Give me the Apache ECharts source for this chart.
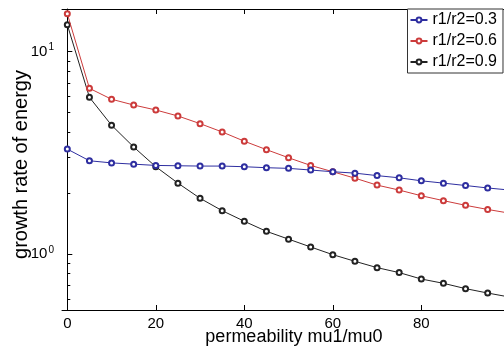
<!DOCTYPE html>
<html><head><meta charset="utf-8">
<script src="https://cdn.jsdelivr.net/npm/echarts@6/dist/echarts.min.js"></script>
<style>html,body{margin:0;padding:0;background:#fff}#c{width:504px;height:353px}</style>
</head><body><div id="c"></div>
<script>
const xValues = [0,5,10,15,20,25,30,35,40,45,50,55,60,65,70,75,80,85,90,95,100];
const seriesNames = ['r1/r2=0.3','r1/r2=0.6','r1/r2=0.9'];
const ratio03 = [3.30,2.89,2.82,2.78,2.74,2.73,2.72,2.72,2.70,2.67,2.65,2.60,2.55,2.51,2.44,2.38,2.30,2.24,2.18,2.12,2.07];
const ratio06 = [15.4,6.59,5.82,5.45,5.15,4.81,4.41,4.01,3.61,3.28,2.99,2.74,2.55,2.37,2.19,2.07,1.94,1.835,1.74,1.66,1.59];
const ratio09 = [13.6,5.95,4.33,3.38,2.70,2.24,1.885,1.637,1.451,1.294,1.184,1.083,0.992,0.920,0.856,0.809,0.752,0.716,0.674,0.641,0.612];
const xTicks = [0,20,40,60,80];
const yMajorTicks = [1,10];
const yMinorTicks = [0.6,0.7,0.8,0.9,2,3,4,5,6,7,8,9];
const colors = ['#2e2ea0','#cc3b3b','#222222'];

const FONT = '"Liberation Sans", Arial, Helvetica, sans-serif';
const X_MIN = -1.2, X_MAX = 100, Y_MIN = 0.5285, Y_MAX = 16.26;

function pairs(ys){ return xValues.map((x,i)=>[x, ys[i]]); }
const allSeries = [ratio03, ratio06, ratio09];

const chart = echarts.init(document.getElementById('c'), null, {renderer:'canvas'});
chart.setOption({
  animation:false,
  backgroundColor:'#fff',
  textStyle:{fontFamily:FONT},
  grid:{left:62, top:9, right:-5.8, bottom:43, containLabel:false, outerBoundsMode:'none'},
  legend:{
    orient:'vertical', left:407.5, top:9,
    padding:[3,6,3,2], itemGap:5, itemWidth:17, itemHeight:6,
    borderColor:'#333', borderWidth:1, backgroundColor:'#fff',
    textStyle:{fontSize:16, lineHeight:16, color:'#000', fontFamily:FONT},
    data:seriesNames
  },
  xAxis:[{
    type:'value', min:X_MIN, max:X_MAX, position:'bottom',
    name:'permeability mu1/mu0', nameLocation:'middle', nameGap:18, nameMoveOverlap:false,
    nameTextStyle:{fontSize:18, color:'#000', fontFamily:FONT, padding:[0,0,0,16]},
    axisLine:{lineStyle:{color:'#000', width:1}},
    axisTick:{inside:true, length:5, customValues:xTicks, lineStyle:{color:'#000'}},
    axisLabel:{customValues:xTicks, fontSize:15, color:'#000', margin:6, fontFamily:FONT},
    splitLine:{show:false}
  },{
    type:'value', min:X_MIN, max:X_MAX, position:'top',
    axisLine:{lineStyle:{color:'#000', width:1}},
    axisTick:{inside:true, length:5, customValues:xTicks, lineStyle:{color:'#000'}},
    axisLabel:{show:false},
    splitLine:{show:false}
  }],
  yAxis:[{
    type:'log', logBase:10, min:Y_MIN, max:Y_MAX, position:'left',
    name:'growth rate of energy', nameLocation:'middle', nameGap:31, nameMoveOverlap:false,
    nameTextStyle:{fontSize:20, color:'#000', fontFamily:FONT, padding:[0,10,0,0]},
    axisLine:{show:true, lineStyle:{color:'#000', width:1}},
    axisTick:{show:true, inside:true, length:5, customValues:yMajorTicks, lineStyle:{color:'#000'}},
    axisLabel:{
      customValues:yMajorTicks, margin:8, color:'#000',
      formatter:function(v){ return '{b|10}{s|' + Math.round(Math.log10(v)) + '}'; },
      rich:{
        b:{fontSize:15, lineHeight:18, fontFamily:FONT, color:'#000'},
        s:{fontSize:10, lineHeight:10, verticalAlign:'top', fontFamily:FONT, color:'#000', padding:[0,0,0,1]}
      }
    },
    splitLine:{show:false}
  },{
    type:'log', logBase:10, min:Y_MIN, max:Y_MAX, position:'left',
    axisLine:{show:false},
    axisTick:{show:true, inside:true, length:3, customValues:yMinorTicks, lineStyle:{color:'#000'}},
    axisLabel:{show:false},
    splitLine:{show:false}
  }],
  series: allSeries.map((ys,i)=>({
    name:seriesNames[i], type:'line', xAxisIndex:0, yAxisIndex:0,
    data:pairs(ys),
    symbol:'emptyCircle', symbolSize:5,
    lineStyle:{color:colors[i], width:1},
    itemStyle:{color:colors[i], borderColor:colors[i], borderWidth:1},
    z: 2 + (2-i)
  }))
});
</script></body></html>
